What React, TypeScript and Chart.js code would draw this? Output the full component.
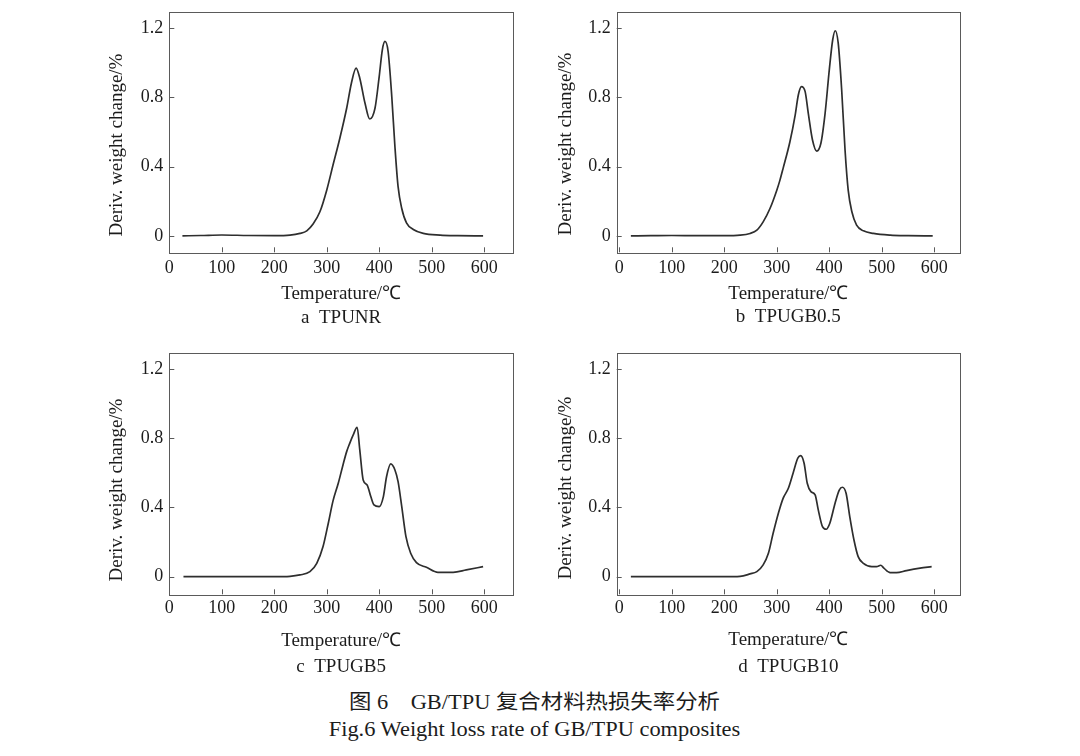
import React, { useEffect, useRef } from "react";
import { Chart, registerables } from "chart.js";

Chart.register(...registerables);

// DTG curves: temperature (°C) and derivative weight change (%)
const tempTPUNR = [25, 60, 100, 150, 200, 230, 249, 262, 274, 287, 300, 312, 325, 338, 347, 356, 363, 373, 382, 392, 400, 406, 411, 417, 424, 430, 436, 443, 452, 465, 484, 516, 550, 598];
const rateTPUNR = [0, 0.002, 0.005, 0.002, 0.001, 0.004, 0.014, 0.029, 0.068, 0.139, 0.264, 0.409, 0.564, 0.737, 0.882, 0.969, 0.911, 0.766, 0.675, 0.737, 0.92, 1.075, 1.123, 1.065, 0.804, 0.515, 0.284, 0.158, 0.075, 0.037, 0.014, 0.004, 0.001, 0];

const tempTPUGB05 = [22, 60, 100, 150, 200, 230, 249, 262, 274, 287, 300, 306, 312, 325, 335, 341, 347, 354, 360, 368, 376, 384, 392, 400, 406.5, 411.4, 417, 423.6, 430, 436, 443, 452, 465, 484, 516, 550, 597];
const rateTPUGB05 = [0, 0.001, 0.002, 0.001, 0.001, 0.004, 0.014, 0.033, 0.081, 0.158, 0.264, 0.322, 0.39, 0.544, 0.698, 0.814, 0.862, 0.833, 0.708, 0.554, 0.49, 0.535, 0.708, 0.959, 1.133, 1.185, 1.113, 0.843, 0.496, 0.264, 0.139, 0.062, 0.029, 0.014, 0.004, 0.001, 0];

const tempTPUGB5 = [27, 60, 100, 150, 200, 230, 249, 268, 281, 293, 303, 312, 322, 331, 338, 344, 350.5, 358, 363, 369.5, 377, 384, 390, 400, 408, 414, 422, 430, 436, 443, 451, 460, 471, 490, 512, 541, 566, 598];
const rateTPUGB5 = [0, 0, 0, 0, 0, 0.002, 0.01, 0.029, 0.077, 0.174, 0.309, 0.438, 0.54, 0.646, 0.723, 0.772, 0.82, 0.864, 0.733, 0.559, 0.53, 0.463, 0.415, 0.405, 0.463, 0.578, 0.652, 0.617, 0.549, 0.405, 0.231, 0.135, 0.081, 0.054, 0.025, 0.025, 0.039, 0.058];

const tempTPUGB10 = [22, 60, 100, 150, 200, 230, 249, 262, 274, 284, 293, 303, 312, 322, 331, 340, 345.5, 352, 358, 365, 373, 379, 387, 394, 401, 411, 419, 425, 432, 439, 447, 455, 465, 481, 490, 498, 504, 516, 528, 547, 573, 595];
const rateTPUGB10 = [0, 0, 0, 0, 0, 0.002, 0.016, 0.029, 0.068, 0.135, 0.251, 0.367, 0.453, 0.511, 0.598, 0.685, 0.7, 0.656, 0.54, 0.492, 0.473, 0.386, 0.289, 0.274, 0.309, 0.425, 0.501, 0.517, 0.482, 0.347, 0.212, 0.116, 0.077, 0.058, 0.058, 0.066, 0.049, 0.023, 0.023, 0.035, 0.049, 0.058];

// Axis ticks
const xTickValues = [0, 100, 200, 300, 400, 500, 600];
const xTickLabels = ["0", "100", "200", "300", "400", "500", "600"];
const yTickValues = [0, 0.4, 0.8, 1.2];
const yTickLabels = ["0", "0.4", "0.8", "1.2"];

const xTitle = "Temperature/\u2103";
const yTitle = "Deriv. weight change/%";
const captionCN = "图 6\u3000GB/TPU 复合材料热损失率分析";
const captionEN = "Fig.6 Weight loss rate of GB/TPU composites";

const SERIF = '"Liberation Serif", "Times New Roman", serif';
const TEXT = "#1c1c1c";
const FRAME = "#5a5a5a";
const LINE = "#2e2e2e";

type Panel = {
  temps: number[];
  rates: number[];
  label: string;
  box: { left: number; top: number; width: number; height: number };
  area: { left: number; top: number; right: number; bottom: number };
  xRange: [number, number];
  yRange: [number, number];
  tickGap: number;
  titleGap: number;
  labelGap: number;
  yTitleDx: number;
  yTitleCy: number;
};

const panels: Panel[] = [
  {
    temps: tempTPUNR, rates: rateTPUNR, label: "a\u00a0\u00a0TPUNR",
    box: { left: 80, top: 0, width: 450, height: 340 },
    area: { left: 169.3, top: 11.7, right: 513, bottom: 252.3 },
    xRange: [0, 655], yRange: [-0.095, 1.295],
    tickGap: 16, titleGap: 41.5, labelGap: 66, yTitleDx: -52.6, yTitleCy: 145,
  },
  {
    temps: tempTPUGB05, rates: rateTPUGB05, label: "b\u00a0\u00a0TPUGB0.5",
    box: { left: 530, top: 0, width: 450, height: 340 },
    area: { left: 616.7, top: 11.7, right: 960, bottom: 252.3 },
    xRange: [-5, 649], yRange: [-0.095, 1.295],
    tickGap: 16, titleGap: 41.5, labelGap: 65, yTitleDx: -50.7, yTitleCy: 144,
  },
  {
    temps: tempTPUGB5, rates: rateTPUGB5, label: "c\u00a0\u00a0TPUGB5",
    box: { left: 80, top: 340, width: 450, height: 350 },
    area: { left: 169.3, top: 352.7, right: 513, bottom: 594.3 },
    xRange: [0, 655], yRange: [-0.102, 1.295],
    tickGap: 14, titleGap: 47, labelGap: 72.5, yTitleDx: -52.6, yTitleCy: 490,
  },
  {
    temps: tempTPUGB10, rates: rateTPUGB10, label: "d\u00a0\u00a0TPUGB10",
    box: { left: 530, top: 340, width: 450, height: 350 },
    area: { left: 616.7, top: 352.7, right: 960, bottom: 594.3 },
    xRange: [-5, 649], yRange: [-0.102, 1.295],
    tickGap: 14, titleGap: 46, labelGap: 72.5, yTitleDx: -50.7, yTitleCy: 488,
  },
];

// Frame, inward tick marks, tick labels and axis titles for one panel
const makeDecorations = (p: Panel) => ({
  id: "panelDecorations",
  afterDraw(chart: any) {
    const { ctx, chartArea: a, scales } = chart;
    const xs = scales.x;
    const ys = scales.y;
    ctx.save();

    ctx.strokeStyle = FRAME;
    ctx.lineWidth = 1;
    ctx.strokeRect(Math.round(a.left) + 0.5, Math.round(a.top) + 0.5, Math.round(a.right - a.left), Math.round(a.bottom - a.top));

    const tickLen = 5;
    ctx.beginPath();
    xTickValues.forEach((v) => {
      const px = Math.round(xs.getPixelForValue(v)) + 0.5;
      ctx.moveTo(px, a.bottom);
      ctx.lineTo(px, a.bottom - tickLen);
    });
    yTickValues.forEach((v) => {
      const py = Math.round(ys.getPixelForValue(v)) + 0.5;
      ctx.moveTo(a.left, py);
      ctx.lineTo(a.left + tickLen, py);
    });
    ctx.stroke();

    ctx.fillStyle = TEXT;
    ctx.font = `18px ${SERIF}`;
    ctx.textBaseline = "middle";
    ctx.textAlign = "center";
    xTickValues.forEach((v, i) => {
      ctx.fillText(xTickLabels[i], xs.getPixelForValue(v), a.bottom + p.tickGap);
    });
    ctx.textAlign = "right";
    yTickValues.forEach((v, i) => {
      ctx.fillText(yTickLabels[i], a.left - 6, ys.getPixelForValue(v));
    });

    ctx.font = `19px ${SERIF}`;
    ctx.textAlign = "center";
    const cx = (a.left + a.right) / 2;
    ctx.fillText(xTitle, cx, a.bottom + p.titleGap);
    ctx.fillText(p.label, cx, a.bottom + p.labelGap);

    ctx.translate(a.left + p.yTitleDx, p.yTitleCy - p.box.top);
    ctx.rotate(-Math.PI / 2);
    ctx.fillText(yTitle, 0, 0);
    ctx.restore();
  },
});

function DtgPanel({ p }: { p: Panel }) {
  const ref = useRef<HTMLCanvasElement | null>(null);
  useEffect(() => {
    if (!ref.current) return;
    const pad = {
      left: p.area.left - p.box.left,
      top: p.area.top - p.box.top,
      right: p.box.left + p.box.width - p.area.right,
      bottom: p.box.top + p.box.height - p.area.bottom,
    };
    const chart = new Chart(ref.current, {
      type: "line",
      data: {
        datasets: [
          {
            data: p.temps.map((t, i) => ({ x: t, y: p.rates[i] })),
            borderColor: LINE,
            borderWidth: 1.7,
            pointRadius: 0,
            fill: false,
            cubicInterpolationMode: "monotone",
          },
        ],
      },
      options: {
        responsive: false,
        animation: false,
        devicePixelRatio: 1,
        layout: { padding: pad },
        plugins: { legend: { display: false }, tooltip: { enabled: false } },
        scales: {
          x: { type: "linear", display: false, min: p.xRange[0], max: p.xRange[1] },
          y: { type: "linear", display: false, min: p.yRange[0], max: p.yRange[1] },
        },
      },
      plugins: [makeDecorations(p)],
    } as any);
    return () => chart.destroy();
  }, [p]);
  return (
    <canvas
      ref={ref}
      width={p.box.width}
      height={p.box.height}
      style={{ position: "absolute", left: p.box.left, top: p.box.top, width: p.box.width, height: p.box.height }}
    />
  );
}

export default function App() {
  const captionStyle = (cy: number, size: number): React.CSSProperties => ({
    position: "absolute",
    left: 0,
    width: 1069,
    top: cy - size / 2 - 1,
    height: size + 2,
    lineHeight: `${size + 2}px`,
    fontSize: size,
    fontFamily: `"Liberation Serif", "Noto Sans CJK SC", serif`,
    color: TEXT,
    textAlign: "center",
    whiteSpace: "pre",
    transform: "scaleX(1.12)",
  });
  return (
    <div style={{ position: "absolute", left: 0, top: 0, width: 1080, height: 756, background: "#fff", overflow: "hidden" }}>
      {panels.map((p, i) => (
        <DtgPanel key={i} p={p} />
      ))}
      <div style={captionStyle(701.5, 20)}>{captionCN}</div>
      <div style={captionStyle(728.5, 20)}>{captionEN}</div>
    </div>
  );
}
